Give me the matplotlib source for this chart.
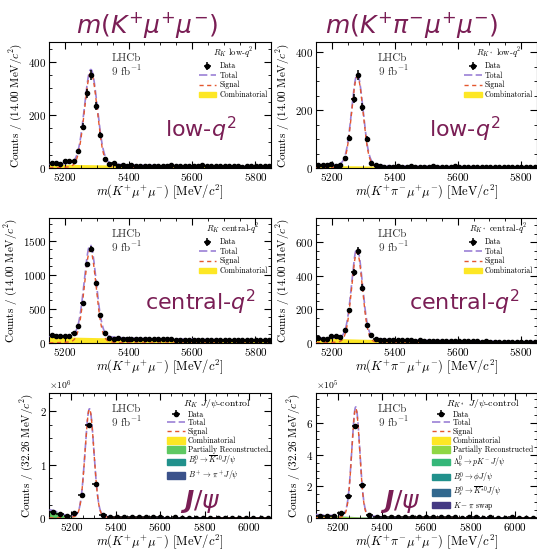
import numpy as np
import matplotlib
matplotlib.use("Agg")
import matplotlib.pyplot as plt
from matplotlib.patches import Patch
from matplotlib.ticker import MultipleLocator, AutoMinorLocator

plt.rcParams['font.family'] = 'cmr10'
plt.rcParams['mathtext.fontset'] = 'cm'
plt.rcParams['axes.formatter.use_mathtext'] = True

MAROON = '#7a1e55'
C_TOTAL = '#9b80d6'
C_SIGNAL = '#e4572e'
VIR4 = ['#fde725', '#5ec962', '#21918c', '#3b528b']
VIR6 = ['#fde725', '#8fd744', '#35b779', '#21918c', '#31688e', '#443983']

# ---- data (counts per bin) ----
edges_q2 = np.linspace(5150, 5850, 51)     # 14.00 MeV bins
edges_jpsi = np.linspace(5100, 6100, 32)   # 32.26 MeV bins

rk_low = [20, 18, 14, 26, 27, 28, 63, 156, 282, 351, 234, 124, 35, 16, 20,
          9, 10, 8, 11, 7, 8, 7, 9, 8, 6, 8, 9, 12, 7, 9, 8, 6, 9, 7, 13,
          8, 7, 6, 8, 7, 6, 8, 7, 5, 7, 6, 6, 9, 7, 6]
rks_low = [10, 10, 10, 15, 7, 10, 33, 105, 240, 322, 210, 99, 18, 9,
           6, 4, 5, 3, 6, 5, 4, 6, 3, 5, 4, 5, 6, 4, 3, 5, 4, 6, 3, 4, 5,
           4, 3, 5, 4, 3, 4, 5, 3, 4, 4, 3, 5, 3, 4, 3]
rk_central = [110, 100, 98, 97, 100, 150, 255, 585, 1160, 1383, 880, 408, 150, 75, 65,
              66, 64, 62, 60, 61, 58, 57, 56, 57, 54, 53, 52, 53, 50, 49, 50, 48, 47,
              48, 46, 45, 46, 44, 43, 44, 42, 41, 42, 40, 41, 39, 40, 38, 39, 37]
rks_central = [30, 26, 26, 40, 40, 36, 79, 194, 420, 549, 330, 109, 48, 22,
               20, 19, 18, 20, 16, 17, 15, 16, 14, 15, 13, 14, 12, 13, 12, 11, 12, 10,
               11, 10, 9, 10, 9, 8, 9, 8, 8, 7, 8, 7, 7, 6, 7, 6, 6, 6]
rk_jpsi = np.array([0.118, 0.075, 0.044, 0.088, 0.43, 1.74, 0.63, 0.05,
                    0.014, 0.012, 0.013, 0.011, 0.012, 0.010, 0.011, 0.010, 0.009, 0.010,
                    0.009, 0.008, 0.009, 0.008, 0.008, 0.007, 0.008, 0.007, 0.007, 0.006,
                    0.007, 0.006, 0.006]) * 1e6
rks_jpsi = np.array([0.15, 0.10, 0.10, 0.30, 1.41, 5.83, 2.06, 0.17,
                     0.06, 0.05, 0.06, 0.05, 0.05, 0.04, 0.05, 0.04, 0.04, 0.05, 0.04,
                     0.04, 0.03, 0.04, 0.04, 0.03, 0.04, 0.03, 0.03, 0.04, 0.03, 0.03,
                     0.03]) * 1e5

# fit shapes: (amplitude, mean, width)
sig_rk_low = (352, 5281, 20)
sig_rks_low = (310, 5281, 18)
sig_rk_central = (1330, 5279, 18.6)
sig_rks_central = (530, 5280, 17)
sig_rk_jpsi = (2.0e6, 5281, 20)
sig_rks_jpsi = (6.8e5, 5280, 18)

# combinatorial: (value at left edge, decay length)
comb_rk_low = (15, 764)
comb_rks_low = (9, 740)
comb_rk_central = (95, 800)
comb_rks_central = (30, 530)
comb_rk_jpsi = (0.01e6, 400)
comb_rks_jpsi = (0.1e5, 60)

# other J/psi components: (label, amplitude, mean, width)
bkg_rk_jpsi = [('Partially Reconstructed', 0.14e6, 5100, 45),
               (r'$B_s^0\to\overline{K}^{*0}J/\psi$', 3e3, 5370, 25),
               (r'$B^+\to\pi^+J/\psi$', 4e3, 5330, 25)]
bkg_rks_jpsi = [('Partially Reconstructed', 0.12e5, 5100, 180),
                (r'$\Lambda_b^0\to pK^-J/\psi$', 0.02e5, 5400, 60),
                (r'$B_s^0\to\phi J/\psi$', 0.01e5, 5200, 30),
                (r'$B_s^0\to\overline{K}^{*0}J/\psi$', 0.01e5, 5370, 25),
                (r'$K-\pi$ swap', 0.01e5, 5280, 60)]


def gauss(x, a, mu, s):
    return a * np.exp(-0.5 * ((x - mu) / s) ** 2)


def panel(ax, edges, counts, sig, comb, others, colors, title, label, lab_xy,
          ylabel, xlabel, ylim, ymaj, lab_kw, big_legend=False):
    counts = np.asarray(counts, dtype=float)
    lo, hi = edges[0], edges[-1]
    x = np.linspace(lo, hi, 1200)
    centers = 0.5 * (edges[1:] + edges[:-1])
    half = 0.5 * (edges[1] - edges[0])

    s_curve = gauss(x, *sig) + gauss(x, sig[0] * 0.02, sig[1], sig[2] * 3)
    base = np.zeros_like(x)
    handles_bkg = []
    c_curve = comb[0] * np.exp(-(x - lo) / comb[1])
    ax.fill_between(x, base, base + c_curve, color=colors[0], lw=0, zorder=1)
    base = base + c_curve
    handles_bkg.append(Patch(facecolor=colors[0], edgecolor=colors[0], label='Combinatorial'))
    for k, (lab, a, mu, w) in enumerate(others):
        comp = gauss(x, a, mu, w)
        ax.fill_between(x, base, base + comp, color=colors[k + 1], lw=0, zorder=1)
        base = base + comp
        handles_bkg.append(Patch(facecolor=colors[k + 1], edgecolor=colors[k + 1], label=lab))
    total = base + s_curve

    lt, = ax.plot(x, total, color=C_TOTAL, ls=(0, (5, 2)), lw=1.2, zorder=3, label='Total')
    ls_, = ax.plot(x, s_curve, color=C_SIGNAL, ls=(0, (3, 2.5)), lw=1.0, zorder=4, label='Signal')
    eb = ax.errorbar(centers, counts, xerr=half, yerr=np.sqrt(counts), fmt='o', ms=3,
                     color='black', elinewidth=1.1, capsize=0, zorder=5, label='Data')

    ax.set_xlim(lo, hi)
    ax.set_ylim(*ylim)
    ax.xaxis.set_major_locator(MultipleLocator(200))
    ax.xaxis.set_minor_locator(AutoMinorLocator(4))
    ax.yaxis.set_major_locator(MultipleLocator(ymaj))
    ax.yaxis.set_minor_locator(AutoMinorLocator(4))
    ax.tick_params(which='both', direction='in', top=True, right=True, labelsize=8, pad=2)
    ax.tick_params(which='major', length=5)
    ax.tick_params(which='minor', length=2.5)
    ax.set_ylabel(ylabel, fontsize=8, labelpad=3)
    ax.set_xlabel(xlabel, fontsize=9, labelpad=0)

    ax.text(0.28, 0.91, 'LHCb\n9 fb$^{-1}$', transform=ax.transAxes, fontsize=8,
            va='top', ha='left', color='#333333', linespacing=1.0)
    ax.text(lab_xy[0], lab_xy[1], label, transform=ax.transAxes, color=MAROON,
            ha='center', va='baseline', family='DejaVu Sans',
            math_fontfamily='dejavusans', **lab_kw)

    handles = [eb, lt, ls_] + handles_bkg
    if big_legend:
        ax.legend(handles=handles, title=title, loc='upper right', frameon=False,
                  fontsize=5.6, title_fontsize=7, borderaxespad=0.25,
                  handlelength=2.3, handleheight=0.9, labelspacing=0.06,
                  handletextpad=0.4, borderpad=0.2)
    else:
        ax.legend(handles=handles, title=title, loc='upper right', frameon=False,
                  fontsize=5.6, title_fontsize=6.3, borderaxespad=0.25,
                  handlelength=2.3, handleheight=0.6, labelspacing=0.15,
                  handletextpad=0.4, borderpad=0.2)
    return ax


fig = plt.figure(figsize=(5.37, 5.5), dpi=100)
cols = [(0.0918, 0.4134), (0.5885, 0.411)]
rows = [(0.6945, 0.229), (0.3764, 0.227), (0.0582, 0.227)]

xl_k = r'$m(K^{+}\mu^{+}\mu^{-})$ [MeV/$c^2$]'
xl_ks = r'$m(K^{+}\pi^{-}\mu^{+}\mu^{-})$ [MeV/$c^2$]'
yl14 = r'Counts / (14.00 MeV/$c^2$)'
yl32 = r'Counts / (32.26 MeV/$c^2$)'
big = dict(fontsize=16)
jp = dict(fontsize=18)

ax = fig.add_axes([cols[0][0], rows[0][0], cols[0][1], rows[0][1]])
panel(ax, edges_q2, rk_low, sig_rk_low, comb_rk_low, [], VIR4,
      r'$R_K$ low-$q^2$', r'low-$q^2$', (0.68, 0.246), yl14, xl_k, (0, 475), 200, big)
ax = fig.add_axes([cols[1][0], rows[0][0], cols[1][1], rows[0][1]])
panel(ax, edges_q2, rks_low, sig_rks_low, comb_rks_low, [], VIR4,
      r'$R_{K^*}$ low-$q^2$', r'low-$q^2$', (0.675, 0.246), yl14, xl_ks, (0, 435), 200, big)
ax = fig.add_axes([cols[0][0], rows[1][0], cols[0][1], rows[1][1]])
panel(ax, edges_q2, rk_central, sig_rk_central, comb_rk_central, [], VIR4,
      r'$R_K$ central-$q^2$', r'central-$q^2$', (0.68, 0.264), yl14, xl_k, (0, 1830), 500, big)
ax = fig.add_axes([cols[1][0], rows[1][0], cols[1][1], rows[1][1]])
panel(ax, edges_q2, rks_central, sig_rks_central, comb_rks_central, [], VIR4,
      r'$R_{K^*}$ central-$q^2$', r'central-$q^2$', (0.675, 0.264), yl14, xl_ks, (0, 743), 200, big)
ax = fig.add_axes([cols[0][0], rows[2][0], cols[0][1], rows[2][1]])
panel(ax, edges_jpsi, rk_jpsi, sig_rk_jpsi, comb_rk_jpsi, bkg_rk_jpsi, VIR4,
      r'$R_K$ $J/\psi$-control', r'$\mathbfit{J}/\psi$', (0.68, 0.08), yl32, xl_k,
      (0, 2.34e6), 1e6, jp, big_legend=True)
ax.ticklabel_format(style='sci', axis='y', scilimits=(0, 0))
ax.yaxis.get_offset_text().set_fontsize(7)
ax = fig.add_axes([cols[1][0], rows[2][0], cols[1][1], rows[2][1]])
panel(ax, edges_jpsi, rks_jpsi, sig_rks_jpsi, comb_rks_jpsi, bkg_rks_jpsi, VIR6,
      r'$R_{K^*}$ $J/\psi$-control', r'$\mathbfit{J}/\psi$', (0.38, 0.08), yl32, xl_ks,
      (0, 7.9e5), 2e5, jp, big_legend=True)
ax.ticklabel_format(style='sci', axis='y', scilimits=(0, 0))
ax.yaxis.get_offset_text().set_fontsize(7)

fig.text(0.274, 0.955, r'$m(K^{+}\mu^{+}\mu^{-})$', fontsize=18, color=MAROON,
         ha='center', va='center', math_fontfamily='dejavusans')
fig.text(0.767, 0.955, r'$m(K^{+}\pi^{-}\mu^{+}\mu^{-})$', fontsize=18, color=MAROON,
         ha='center', va='center', math_fontfamily='dejavusans')

fig.savefig('out.png', dpi=100)
